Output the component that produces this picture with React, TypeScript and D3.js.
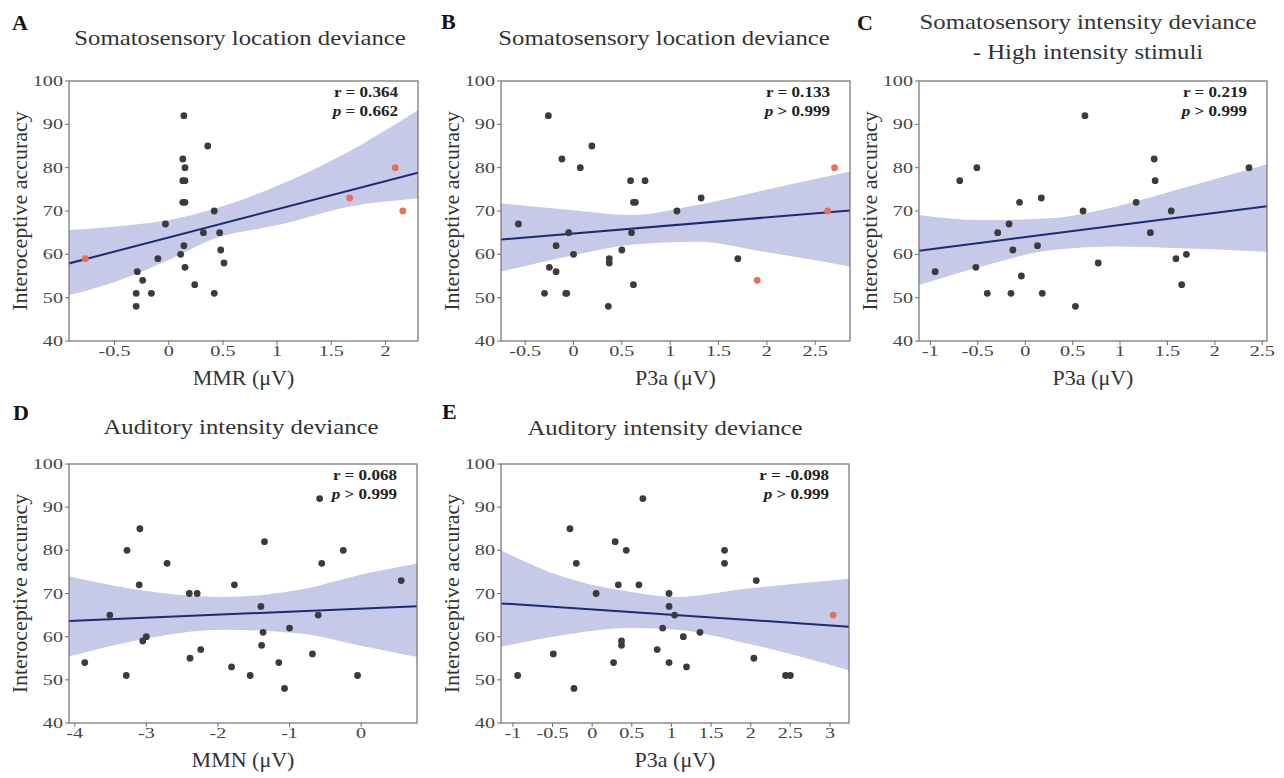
import React, { useEffect, useRef } from 'react';
import * as d3 from 'd3';

// Interoceptive accuracy vs ERP amplitude, five panels (A-E).
// Grey dots = participants, red dots = flagged outliers (still part of the fit).

const yTicks = [40, 50, 60, 70, 80, 90, 100];

// A - somatosensory location deviance, MMR
const aX = [0.14, 0.36, 0.13, 0.15, 0.13, 0.15, 0.13, 0.15, 0.42, -0.03, 0.32, 0.47, 0.14, 0.48, 0.11, -0.10, 0.15, 0.51, -0.29, -0.24, 0.24, -0.30, -0.16, 0.42, -0.30];
const aY = [92, 85, 82, 80, 77, 77, 72, 72, 70, 67, 65, 65, 62, 61, 60, 59, 57, 58, 56, 54, 53, 51, 51, 51, 48];
const aOutX = [-0.77, 1.67, 2.09, 2.16];
const aOutY = [59, 73, 80, 70];
const aBandX = [-0.92, -0.49, 0, 0.43, 1.02, 1.66, 2.3];
const aBandLo = [50.6, 53.7, 58.7, 63.7, 66.8, 71.0, 72.9];
const aBandHi = [65.6, 66.4, 67.9, 70.6, 76.0, 83.7, 93.3];
const aTicks = [-0.5, 0, 0.5, 1, 1.5, 2];

// B - somatosensory location deviance, P3a
const bX = [-0.26, 0.19, -0.12, 0.07, 0.59, 0.74, 0.62, 0.64, 1.32, 1.07, -0.57, -0.05, 0.6, -0.18, 0.5, 0.0, 0.37, 0.37, -0.25, -0.18, 1.7, 0.62, -0.3, -0.08, -0.07, 0.36];
const bY = [92, 85, 82, 80, 77, 77, 72, 72, 73, 70, 67, 65, 65, 62, 61, 60, 59, 58, 57, 56, 59, 53, 51, 51, 51, 48];
const bOutX = [2.7, 2.63, 1.9];
const bOutY = [80, 70, 54];
const bBandX = [-0.75, 0, 0.59, 1.28, 1.97, 2.86];
const bBandLo = [56.0, 59.8, 62.2, 62.9, 60.6, 57.2];
const bBandHi = [71.8, 70.2, 69.1, 71.4, 74.8, 79.1];
const bTicks = [-0.5, 0, 0.5, 1, 1.5, 2, 2.5];

// C - somatosensory intensity deviance (high), P3a
const cX = [0.63, 1.36, -0.51, 2.36, -0.69, 1.37, 0.17, -0.06, 1.17, 0.61, 1.54, -0.17, -0.29, 1.32, 0.13, -0.13, 1.7, 1.59, 0.77, -0.95, -0.52, -0.04, 1.65, -0.4, -0.15, 0.18, 0.53];
const cY = [92, 82, 80, 80, 77, 77, 73, 72, 72, 70, 70, 67, 65, 65, 62, 61, 60, 59, 58, 56, 57, 55, 53, 51, 51, 51, 48];
const cBandX = [-1.12, -0.46, 0.25, 0.95, 1.65, 2.55];
const cBandLo = [52.9, 57.2, 60.9, 61.8, 61.4, 60.6];
const cBandHi = [69.1, 67.9, 68.3, 71.0, 75.2, 80.8];
const cTicks = [-1, -0.5, 0, 0.5, 1, 1.5, 2, 2.5];

// D - auditory intensity deviance, MMN
const dX = [-3.09, -1.35, -3.27, -0.25, -2.71, -0.55, 0.56, -3.1, -1.77, -2.4, -2.29, -1.4, -3.51, -0.6, -1.0, -1.37, -3.0, -3.05, -1.39, -2.24, -0.68, -2.39, -3.86, -1.15, -1.81, -3.28, -1.55, -0.05, -1.07, -0.58];
const dY = [85, 82, 80, 80, 77, 77, 73, 72, 72, 70, 70, 67, 65, 65, 62, 61, 60, 59, 58, 57, 56, 55, 54, 54, 53, 51, 51, 51, 48, 92];
const dBandX = [-4.08, -3.21, -1.91, -0.88, 0.05, 0.78];
const dBandLo = [55.4, 58.9, 61.6, 60.8, 57.7, 55.3];
const dBandHi = [74.0, 71.1, 69.2, 70.8, 74.6, 76.9];
const dTicks = [-4, -3, -2, -1, 0];

// E - auditory intensity deviance, P3a
const eX = [0.64, -0.28, 0.29, 0.43, 1.67, -0.2, 1.67, 2.07, 0.33, 0.59, 0.05, 0.97, 0.97, 1.04, 0.89, 1.36, 1.15, 0.37, 0.37, 0.82, -0.49, 2.04, 0.27, 0.97, 1.19, -0.94, 2.44, 2.5, -0.23];
const eY = [92, 85, 82, 80, 80, 77, 77, 73, 72, 72, 70, 70, 67, 65, 62, 61, 60, 59, 58, 57, 56, 55, 54, 54, 53, 51, 51, 51, 48];
const eOutX = [3.04];
const eOutY = [65];
const eBandX = [-1.15, -0.36, 0.47, 1.06, 1.94, 3.24];
const eBandLo = [57.7, 60.4, 62.0, 61.6, 58.5, 52.2];
const eBandHi = [80.0, 73.8, 70.4, 69.2, 71.1, 73.4];
const eTicks = [-1, -0.5, 0, 0.5, 1, 1.5, 2, 2.5, 3];

const panels = [
  { letter: 'A', title: ['Somatosensory location deviance'], xLabel: 'MMR (μV)', r: '0.364', p: '= 0.662',
    xs: aX, ys: aY, outX: aOutX, outY: aOutY, bandX: aBandX, bandLo: aBandLo, bandHi: aBandHi, ticks: aTicks,
    xDomain: [-0.92, 2.3], left: 69, right: 418, top: 81, bottom: 341,
    titleX: 240, titleY: 45, letterX: 12, letterY: 30 },
  { letter: 'B', title: ['Somatosensory location deviance'], xLabel: 'P3a (μV)', r: '0.133', p: '> 0.999',
    xs: bX, ys: bY, outX: bOutX, outY: bOutY, bandX: bBandX, bandLo: bBandLo, bandHi: bBandHi, ticks: bTicks,
    xDomain: [-0.75, 2.86], left: 501, right: 850, top: 81, bottom: 341,
    titleX: 664, titleY: 45, letterX: 441, letterY: 29 },
  { letter: 'C', title: ['Somatosensory intensity deviance', '- High intensity stimuli'], xLabel: 'P3a (μV)', r: '0.219', p: '> 0.999',
    xs: cX, ys: cY, outX: [], outY: [], bandX: cBandX, bandLo: cBandLo, bandHi: cBandHi, ticks: cTicks,
    xDomain: [-1.12, 2.55], left: 919, right: 1267, top: 81, bottom: 341,
    titleX: 1088, titleY: 29, letterX: 857, letterY: 30 },
  { letter: 'D', title: ['Auditory intensity deviance'], xLabel: 'MMN (μV)', r: '0.068', p: '> 0.999',
    xs: dX, ys: dY, outX: [], outY: [], bandX: dBandX, bandLo: dBandLo, bandHi: dBandHi, ticks: dTicks,
    xDomain: [-4.08, 0.78], left: 69, right: 417, top: 464, bottom: 723,
    titleX: 241, titleY: 434, letterX: 13, letterY: 420 },
  { letter: 'E', title: ['Auditory intensity deviance'], xLabel: 'P3a (μV)', r: '-0.098', p: '> 0.999',
    xs: eX, ys: eY, outX: eOutX, outY: eOutY, bandX: eBandX, bandLo: eBandLo, bandHi: eBandHi, ticks: eTicks,
    xDomain: [-1.15, 3.24], left: 501, right: 849, top: 464, bottom: 723,
    titleX: 665, titleY: 435, letterX: 442, letterY: 419 },
];

const FONT = '"Liberation Serif", "Times New Roman", serif';

// the source figure is stretched sideways, so most text gets a horizontal scale
const addText = (parent, s, x, y, size, opts: any = {}) =>
  parent
    .append('text')
    .attr('transform', `translate(${x},${y}) scale(${opts.sx ?? 1},1)${opts.rot ? ' rotate(-90)' : ''}`)
    .attr('text-anchor', opts.anchor ?? 'middle')
    .attr('font-family', FONT)
    .attr('font-size', size)
    .attr('font-weight', opts.bold ? 'bold' : 'normal')
    .attr('fill', opts.fill ?? '#333')
    .text(s);

const App = () => {
  const svgRef = useRef(null);

  useEffect(() => {
    const svg = d3.select(svgRef.current);
    svg.selectAll('*').remove();
    const defs = svg.append('defs');

    panels.forEach((p, i) => {
      const g = svg.append('g');
      const x = d3.scaleLinear().domain(p.xDomain).range([p.left, p.right]);
      const y = d3.scaleLinear().domain([40, 100]).range([p.bottom, p.top]);

      defs.append('clipPath').attr('id', `clip${i}`)
        .append('rect')
        .attr('x', p.left).attr('y', p.top)
        .attr('width', p.right - p.left).attr('height', p.bottom - p.top);
      const plot = g.append('g').attr('clip-path', `url(#clip${i})`);

      // confidence band
      const band = p.bandX.map((bx, j) => ({ x: bx, lo: p.bandLo[j], hi: p.bandHi[j] }));
      plot.append('path')
        .datum(band)
        .attr('d', d3.area().x((d) => x(d.x)).y0((d) => y(d.lo)).y1((d) => y(d.hi)).curve(d3.curveMonotoneX))
        .attr('fill', '#c6c9e8');

      // least squares fit over every point, outliers included
      const allX = [...p.xs, ...p.outX];
      const allY = [...p.ys, ...p.outY];
      const mx = d3.mean(allX);
      const my = d3.mean(allY);
      const slope = d3.sum(allX, (v, k) => (v - mx) * (allY[k] - my)) / d3.sum(allX, (v) => (v - mx) ** 2);
      const b0 = my - slope * mx;
      const [x0, x1] = p.xDomain;
      plot.append('line')
        .attr('x1', x(x0)).attr('y1', y(b0 + slope * x0))
        .attr('x2', x(x1)).attr('y2', y(b0 + slope * x1))
        .attr('stroke', '#1c2a78').attr('stroke-width', 2);

      plot.selectAll('.dot')
        .data(p.xs.map((v, k) => [v, p.ys[k]]))
        .enter().append('circle')
        .attr('cx', (d) => x(d[0])).attr('cy', (d) => y(d[1]))
        .attr('r', 3.4).attr('fill', '#3b3b3b');

      plot.selectAll('.out')
        .data(p.outX.map((v, k) => [v, p.outY[k]]))
        .enter().append('circle')
        .attr('cx', (d) => x(d[0])).attr('cy', (d) => y(d[1]))
        .attr('r', 3.4).attr('fill', '#e66f5e');

      // frame and ticks
      g.append('rect')
        .attr('x', p.left).attr('y', p.top)
        .attr('width', p.right - p.left).attr('height', p.bottom - p.top)
        .attr('fill', 'none').attr('stroke', '#707070').attr('stroke-width', 1.2);

      yTicks.forEach((t) => {
        g.append('line').attr('x1', p.left - 4).attr('x2', p.left).attr('y1', y(t)).attr('y2', y(t)).attr('stroke', '#707070');
        addText(g, String(t), p.left - 6, y(t) + 5, 15.5, { anchor: 'end', fill: '#444', sx: 1.3 });
      });
      p.ticks.forEach((t) => {
        g.append('line').attr('x1', x(t)).attr('x2', x(t)).attr('y1', p.bottom).attr('y2', p.bottom + 4).attr('stroke', '#707070');
        addText(g, String(t), x(t), p.bottom + 15, 15.5, { fill: '#444', sx: 1.3 });
      });

      // labels
      addText(g, 'Interoceptive accuracy', p.left - 42, (p.top + p.bottom) / 2, 22, { rot: true });
      addText(g, p.xLabel, (p.left + p.right) / 2, p.bottom + 44, 22);
      p.title.forEach((line, k) => addText(g, line, p.titleX, p.titleY + k * 30, 21, { sx: 1.18 }));
      addText(g, p.letter, p.letterX, p.letterY, 22, { bold: true, anchor: 'start', fill: '#111' });

      // correlation stats
      addText(g, `r = ${p.r}`, p.right - 20, p.top + 16, 14, { bold: true, anchor: 'end', fill: '#222', sx: 1.22 });
      const pt = addText(g, '', p.right - 20, p.top + 35, 14, { bold: true, anchor: 'end', fill: '#222', sx: 1.22 });
      pt.append('tspan').attr('font-style', 'italic').text('p');
      pt.append('tspan').text(` ${p.p}`);
    });
  }, []);

  return (
    <svg
      ref={svgRef}
      width={1284}
      height={778}
      style={{ position: 'absolute', left: 0, top: 0, background: '#fff' }}
    />
  );
};

export default App;
